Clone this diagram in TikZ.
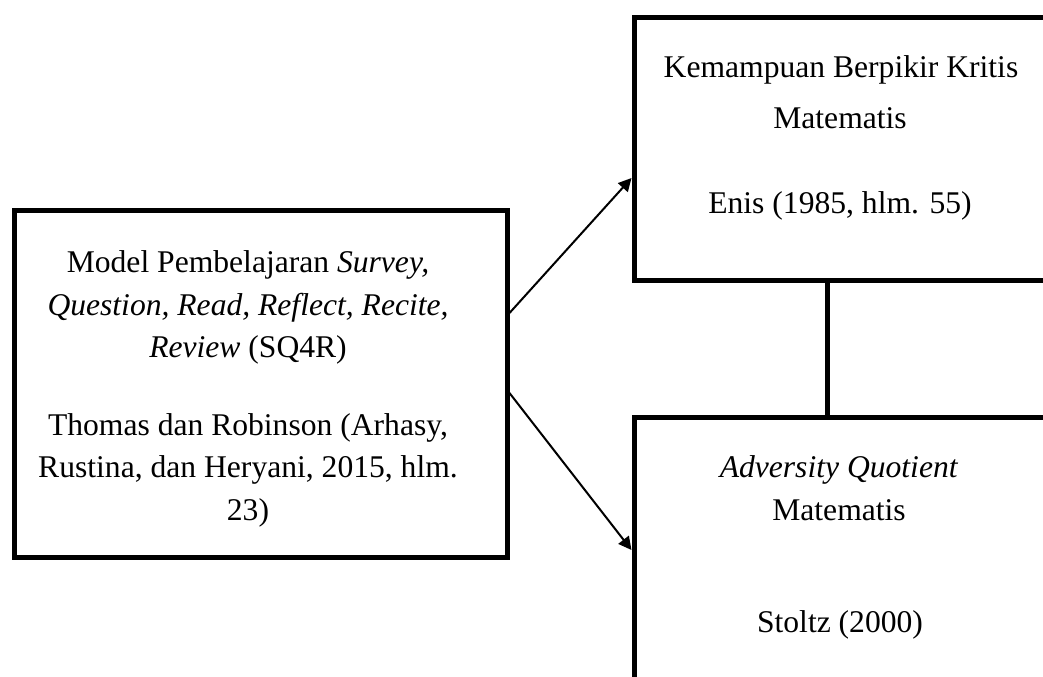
\documentclass[tikz,border=0pt]{standalone}
\usepackage{fontspec}
\setmainfont{Liberation Serif}
\usetikzlibrary{arrows.meta}
\begin{document}
\begin{tikzpicture}[x=0.5pt,y=-0.5pt,
  box/.style={draw=black,line width=2.5pt,fill=none,inner sep=0pt},
  txt/.style={anchor=base,inner sep=0pt,font=\fontsize{15.8}{18}\selectfont},
  conn/.style={line width=1pt,-{Triangle[length=6.5pt,width=6.5pt]}},
  link/.style={line width=2.5pt}]
\useasboundingbox (0,0) rectangle (1043,676);
% boxes
\node[box,minimum width=246.5pt,minimum height=173.5pt] (L) at (260.5,383.5) {};
\node[box,minimum width=233pt,minimum height=131.5pt] (T) at (867,148.5) {};
\node[box,minimum width=233pt,minimum height=166.5pt] (B) at (867,583.5) {};
% left text
\node[txt] (l1) at (248,272) {Model Pembelajaran \textit{Survey,}};
\node[txt] (l2) at (248,315) {\textit{Question, Read, Reflect, Recite,}};
\node[txt] (l3) at (248,357) {\textit{Review} (SQ4R)};
\node[txt] (l4) at (248,435) {Thomas dan Robinson (Arhasy,};
\node[txt] (l5) at (248,477) {Rustina, dan Heryani, 2015, hlm.};
\node[txt] (l6) at (248,520) {23)};
% top right text
\node[txt] (t1) at (841,77) {Kemampuan Berpikir Kritis};
\node[txt] (t2) at (840,128) {Matematis};
\node[txt] (t3) at (840,213) {Enis (1985, hlm. 55)};
% bottom right text
\node[txt] (b1) at (839,477) {\textit{Adversity Quotient}};
\node[txt] (b2) at (839,520) {Matematis};
\node[txt] (b3) at (840,632) {Stoltz (2000)};
% connectors
\draw[conn] ([yshift=35.25pt]L.east) -- ([yshift=-14.75pt]T.west);
\draw[conn] ([yshift=-4.75pt]L.east) -- ([yshift=16.75pt]B.west);
\draw[link] ([xshift=-20pt]T.south) -- ([xshift=-20pt]B.north);
\end{tikzpicture}
\end{document}
